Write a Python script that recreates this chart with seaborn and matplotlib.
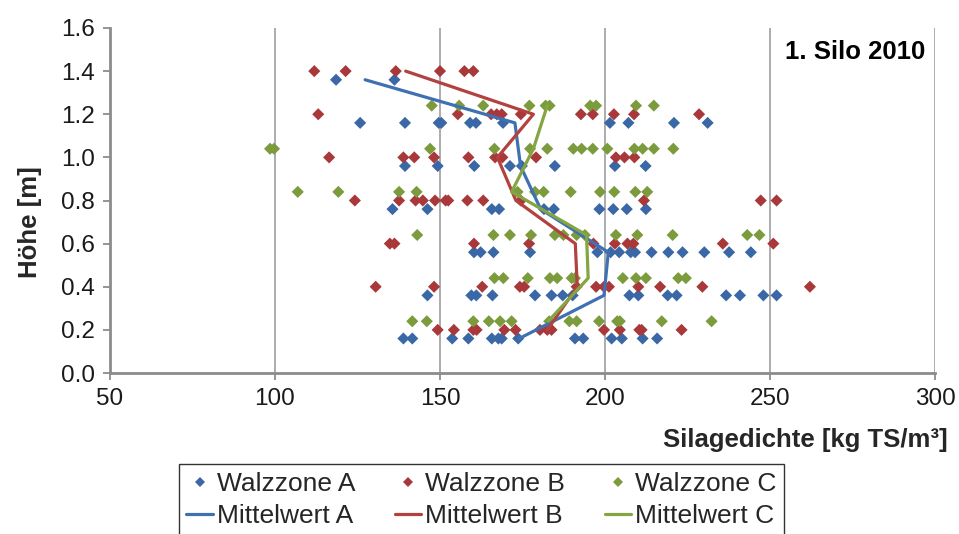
import matplotlib
matplotlib.use("Agg")
import matplotlib.pyplot as plt
import pandas as pd
import seaborn as sns
from matplotlib.lines import Line2D

# ---------------- data ----------------
heights_A = [1.36, 1.16, 0.96, 0.76, 0.56, 0.36, 0.16]
dens_A = [
    [118.5, 136.2],
    [125.8, 139.4, 149.6, 150.4, 159.1, 160.9, 169.1, 201.5, 207.1, 220.9, 231.1],
    [139.4, 149.3, 160.4, 171.2, 174.8, 184.8, 203.0, 212.3],
    [135.6, 146.2, 165.7, 167.9, 181.5, 184.5, 198.3, 202.5, 206.6, 212.4],
    [160.3, 162.3, 166.2, 177.3, 197.7, 201.7, 204.3, 207.8, 209.1, 214.1, 219.2, 223.5, 230.1, 237.6, 244.2],
    [146.2, 159.5, 161.0, 165.9, 178.8, 183.8, 187.2, 190.2, 207.4, 210.1, 219.0, 221.7, 236.7, 240.9, 248.0, 252.0],
    [138.9, 141.6, 153.7, 158.6, 165.7, 167.7, 168.7, 173.7, 190.9, 193.4, 202.0, 205.1, 211.4, 215.8],
]
heights_B = [1.4, 1.2, 1.0, 0.8, 0.6, 0.4, 0.2]
dens_B = [
    [111.9, 121.4, 136.6, 150.0, 157.4, 160.1],
    [113.1, 155.4, 165.5, 167.2, 168.7, 174.5, 192.7, 196.3, 202.7, 208.8, 228.5],
    [116.4, 138.9, 142.2, 148.2, 158.6, 166.7, 168.9, 179.1, 203.3, 205.9, 208.9],
    [124.2, 137.6, 142.6, 144.8, 148.5, 151.7, 152.5, 158.3, 163.1, 174.5, 211.8, 247.2, 252.0],
    [134.8, 136.2, 160.3, 177.0, 196.5, 203.0, 206.8, 208.6, 235.7, 251.0],
    [130.5, 148.2, 162.8, 174.2, 175.5, 191.4, 197.3, 199.7, 201.2, 210.1, 216.7, 229.5, 262.1],
    [149.3, 154.2, 160.1, 161.1, 169.5, 172.9, 180.3, 182.5, 183.8, 199.7, 204.5, 210.4, 211.1, 223.2],
]
heights_C = [1.24, 1.04, 0.84, 0.64, 0.44, 0.24]
dens_C = [
    [147.5, 155.8, 163.1, 177.1, 182.0, 183.2, 195.5, 197.3, 209.4, 214.8],
    [98.5, 99.7, 147.0, 166.5, 177.3, 182.5, 190.4, 192.9, 196.3, 200.7, 208.9, 211.4, 214.8, 220.7],
    [106.9, 119.2, 137.6, 142.9, 173.5, 178.8, 181.4, 189.6, 198.5, 202.8, 209.2, 212.8],
    [143.1, 166.2, 171.2, 177.6, 184.8, 187.4, 191.4, 193.9, 203.3, 209.8, 220.5, 243.1, 246.8],
    [166.5, 169.2, 176.6, 183.3, 185.5, 189.9, 190.9, 205.4, 209.4, 212.4, 222.2, 224.5],
    [141.6, 146.0, 160.1, 164.8, 168.2, 171.7, 183.1, 189.2, 191.4, 198.2, 203.7, 204.5, 217.2, 232.3],
]
mean_A = [127.3, 172.7, 174.4, 180.5, 201.0, 199.7, 174.0]
mean_B = [139.6, 178.3, 167.4, 173.0, 191.0, 191.6, 182.5]
mean_C = [182.5, 178.3, 171.7, 194.4, 194.9, 182.8]

zones = ["Walzzone A", "Walzzone B", "Walzzone C"]
mean_labels = ["Mittelwert A", "Mittelwert B", "Mittelwert C"]
x_ticks = [50, 100, 150, 200, 250, 300]
y_ticks = [0.0, 0.2, 0.4, 0.6, 0.8, 1.0, 1.2, 1.4, 1.6]

marker_colors = ["#3A68A6", "#A8383A", "#7B9B3C"]
line_colors = ["#3F71B2", "#B24240", "#84A541"]

# ---------------- frame ----------------
rows = []
for zone, hs, ds in zip(zones, [heights_A, heights_B, heights_C], [dens_A, dens_B, dens_C]):
    for h, vals in zip(hs, ds):
        for v in vals:
            rows.append((zone, h, v))
df = pd.DataFrame(rows, columns=["zone", "hoehe", "dichte"])

sns.set_theme(style="white")
plt.rcParams["font.family"] = ["Liberation Sans", "DejaVu Sans"]

fig = plt.figure(figsize=(9.59, 5.34), dpi=100)
ax = fig.add_axes([110 / 959, 1 - 373 / 534, 825 / 959, 345 / 534])

sns.scatterplot(data=df, x="dichte", y="hoehe", hue="zone", hue_order=zones,
                palette=marker_colors, marker="D", s=38, linewidth=0,
                legend=False, ax=ax, zorder=3)

for hs, ms, col in zip([heights_A, heights_B, heights_C], [mean_A, mean_B, mean_C], line_colors):
    sns.lineplot(x=ms, y=hs, sort=False, estimator=None, color=col,
                 linewidth=2.3, ax=ax, zorder=4)

ax.set_xlim(50, 300)
ax.set_ylim(0, 1.6)
ax.set_xticks(x_ticks)
ax.set_xticklabels([str(t) for t in x_ticks])
ax.set_yticks(y_ticks)
ax.set_yticklabels([f"{t:.1f}" for t in y_ticks])
ax.set_xlabel("")
ax.set_ylabel("")
ax.xaxis.grid(True, color="#a6a6a6", linewidth=1.3)
ax.yaxis.grid(False)
for s in ["top", "right"]:
    ax.spines[s].set_visible(False)
for s in ["left", "bottom"]:
    ax.spines[s].set_color("#8c8c8c")
    ax.spines[s].set_linewidth(2.0)
ax.tick_params(axis="both", direction="out", length=5, width=1.3, color="#8c8c8c",
               labelsize=17.5, labelcolor="#1a1a1a", pad=6, left=True, bottom=True)

ax.text(0.988, 0.93, "1. Silo 2010", transform=ax.transAxes, ha="right", va="center",
        fontsize=18.5, fontweight="bold", color="black")

fig.text(948 / 959, 1 - 440 / 534, "Silagedichte [kg TS/m³]", ha="right", va="center",
         fontsize=18.5, fontweight="bold")
fig.text(30 / 959, 1 - 222 / 534, "Höhe [m]", ha="center", va="center", rotation=90,
         fontsize=18.5, fontweight="bold")

handles = []
for i in range(3):
    handles.append(Line2D([], [], linestyle="none", marker="D", markersize=5,
                          markerfacecolor=marker_colors[i], markeredgewidth=0, label=zones[i]))
    handles.append(Line2D([], [], color=line_colors[i], linewidth=2.3, label=mean_labels[i]))
leg = fig.legend(handles=handles, ncol=3, loc="upper center", bbox_to_anchor=(0.502, 1 - 464 / 534),
                 borderaxespad=0.0,
                 fontsize=19, frameon=True, fancybox=False, handlelength=1.0, handletextpad=0.15,
                 columnspacing=1.5, labelspacing=0.3, borderpad=0.3)
leg.get_frame().set_edgecolor("black")
leg.get_frame().set_linewidth(1.0)

fig.savefig("out.png", dpi=100)
